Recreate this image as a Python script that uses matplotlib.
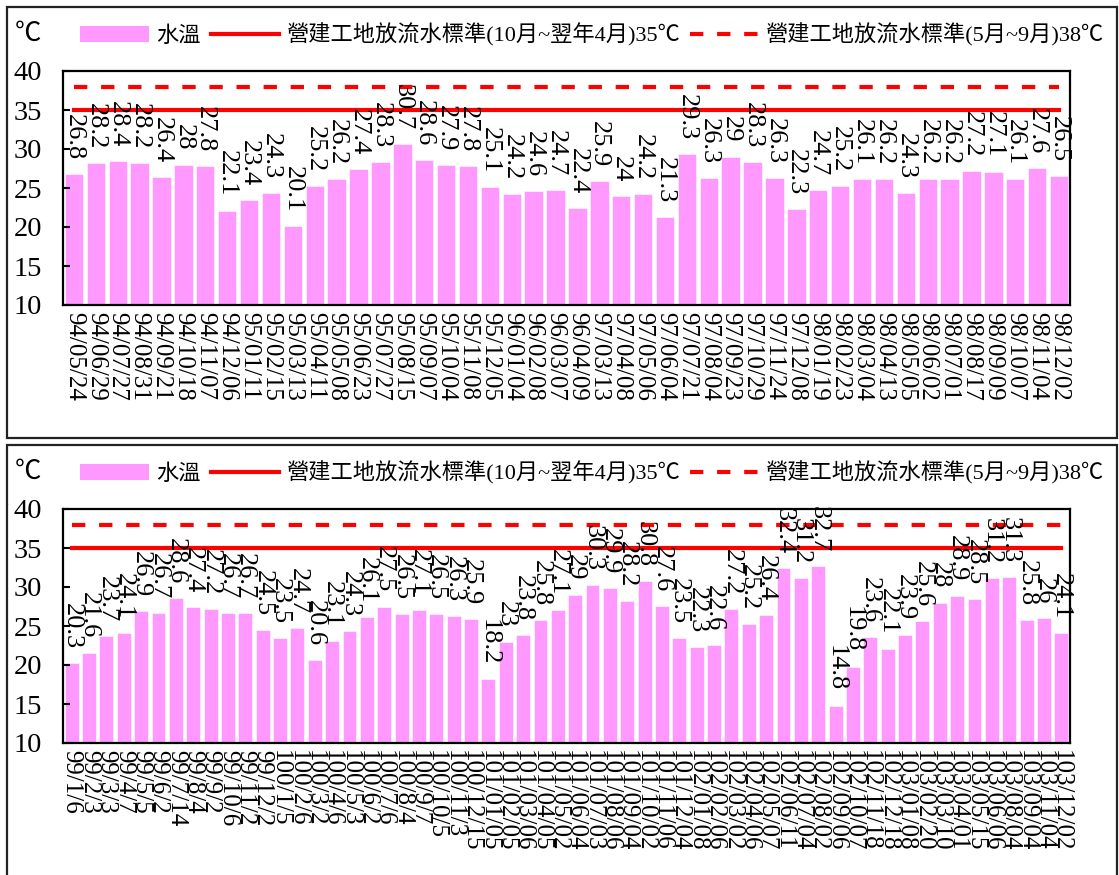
import matplotlib
matplotlib.use("Agg")
import matplotlib.pyplot as plt
from matplotlib.patches import Patch, Rectangle
from matplotlib.lines import Line2D

plt.rcParams['font.family'] = ['Liberation Serif', 'Noto Sans CJK TC']

# 94~98年 採樣日期與水溫
dates_a = ["94/05/24", "94/06/29", "94/07/27", "94/08/31", "94/09/21", "94/10/18",
           "94/11/07", "94/12/06", "95/01/11", "95/02/15", "95/03/13", "95/04/11",
           "95/05/08", "95/06/23", "95/07/27", "95/08/15", "95/09/07", "95/10/04",
           "95/11/08", "95/12/05", "96/01/04", "96/02/08", "96/03/07", "96/04/09",
           "97/03/13", "97/04/08", "97/05/06", "97/06/04", "97/07/21", "97/08/04",
           "97/09/23", "97/10/29", "97/11/24", "97/12/08", "98/01/19", "98/02/23",
           "98/03/04", "98/04/13", "98/05/05", "98/06/02", "98/07/01", "98/08/17",
           "98/09/09", "98/10/07", "98/11/04", "98/12/02"]
temp_a = [26.8, 28.2, 28.4, 28.2, 26.4, 28, 27.8, 22.1, 23.4, 24.3, 20.1, 25.2,
          26.2, 27.4, 28.3, 30.7, 28.6, 27.9, 27.8, 25.1, 24.2, 24.6, 24.7, 22.4,
          25.9, 24, 24.2, 21.3, 29.3, 26.3, 29, 28.3, 26.3, 22.3, 24.7, 25.2,
          26.1, 26.2, 24.3, 26.2, 26.2, 27.2, 27.1, 26.1, 27.6, 26.5]

# 99~103年 採樣日期與水溫
dates_b = ["99/1/6", "99/2/3", "99/3/3", "99/4/7", "99/5/5", "99/6/2", "99/7/14",
           "99/8/4", "99/9/2", "99/10/6", "99/11/2", "99/12/2",
           "100/1/5", "100/2/6", "100/3/2", "100/4/6", "100/5/3", "100/6/2",
           "100/7/6", "100/8/4", "100/9/7", "100/10/5", "100/11/3", "100/12/15",
           "101/01/05", "101/02/05", "101/03/06", "101/04/05", "101/05/02",
           "101/06/04", "101/07/03", "101/08/06", "101/09/04", "101/10/02",
           "101/11/06", "101/12/04",
           "102/01/08", "102/02/06", "102/03/02", "102/04/06", "102/05/07",
           "102/06/11", "102/07/04", "102/08/02", "102/09/06", "102/10/07",
           "102/11/18", "102/12/18",
           "103/01/08", "103/02/20", "103/03/10", "103/04/01", "103/05/15",
           "103/06/06", "103/08/04", "103/09/04", "103/11/04", "103/12/02"]
temp_b = [20.3, 21.6, 23.7, 24.1, 26.9, 26.7, 28.6, 27.4, 27.2, 26.7, 26.7, 24.5,
          23.5, 24.7, 20.6, 23.1, 24.3, 26.1, 27.5, 26.5, 27.1, 26.5, 26.3, 25.9,
          18.2, 23, 23.8, 25.8, 27.1, 29, 30.3, 29.9, 28.2, 30.8, 27.6, 23.5,
          22.3, 22.6, 27.2, 25.2, 26.4, 32.4, 31.2, 32.7, 14.8, 19.8, 23.6, 22.1,
          23.9, 25.6, 28, 28.9, 28.5, 31.2, 31.3, 25.8, 26, 24.1]

std_winter = 35
std_summer = 38
lbl_bar = "水溫"
lbl_winter = "營建工地放流水標準(10月~翌年4月)35℃"
lbl_summer = "營建工地放流水標準(5月~9月)38℃"

PINK = "#FF99FF"
RED = "#FF0000"
W, H = 1119, 875

fig = plt.figure(figsize=(W / 100, H / 100), dpi=100)


def panel(top_px, dates, temps, bw, box):
    # 外框
    x0, y0, x1, y1 = box
    fig.patches.append(Rectangle((x0 / W, 1 - y1 / H), (x1 - x0) / W, (y1 - y0) / H,
                                 transform=fig.transFigure, fill=False,
                                 edgecolor="#222222", linewidth=1.6))
    ax = fig.add_axes([63 / W, 1 - (top_px + 234) / H, 1007 / W, 234 / H])
    n = len(temps)
    xs = list(range(n))
    ax.bar(xs, temps, width=bw, color=PINK, edgecolor="white", linewidth=0.4)
    ax.plot([0, n - 1], [std_winter, std_winter], color=RED, lw=3)
    ax.plot([0, n - 1], [std_summer, std_summer], color=RED, lw=3,
            linestyle=(0, (3.2, 3.3)))
    for i, v in enumerate(temps):
        ax.annotate(f"{v:g}", (i, v), xytext=(0, 10), textcoords="offset points",
                    rotation=-90, ha="center", va="bottom", fontsize=19)
    ax.set_xlim(-0.5, n - 0.5)
    ax.set_ylim(10, 40)
    ax.set_yticks(range(10, 41, 5))
    ax.set_xticks(xs)
    ax.set_xticklabels(dates, rotation=-90, fontsize=18)
    ax.tick_params(axis="x", length=0, pad=5)
    ax.tick_params(axis="y", direction="in", length=5, width=1.5, pad=15,
                   labelsize=20.5)
    for s in ax.spines.values():
        s.set_linewidth(1.6)

    # 圖例與單位
    yc = 1 - (top_px - 36) / H
    fig.text(28 / W, yc, "℃", ha="center", va="center", fontsize=19)
    handles = [Patch(facecolor=PINK, edgecolor="none"),
               Line2D([], [], color=RED, lw=3),
               Line2D([], [], color=RED, lw=3, linestyle=(0, (3.2, 3.3)))]
    fig.legend(handles, [lbl_bar, lbl_winter, lbl_summer], loc="center left",
               bbox_to_anchor=(80 / W, yc), ncol=3, frameon=False, fontsize=16,
               handlelength=3.1, handletextpad=0.32, columnspacing=0.45,
               borderpad=0, borderaxespad=0)
    return ax


panel(71, dates_a, temp_a, 0.84, (7, 7, 1117, 438))
panel(509, dates_b, temp_b, 0.8, (7, 445, 1117, 885))

fig.savefig("out.png", dpi=100)
